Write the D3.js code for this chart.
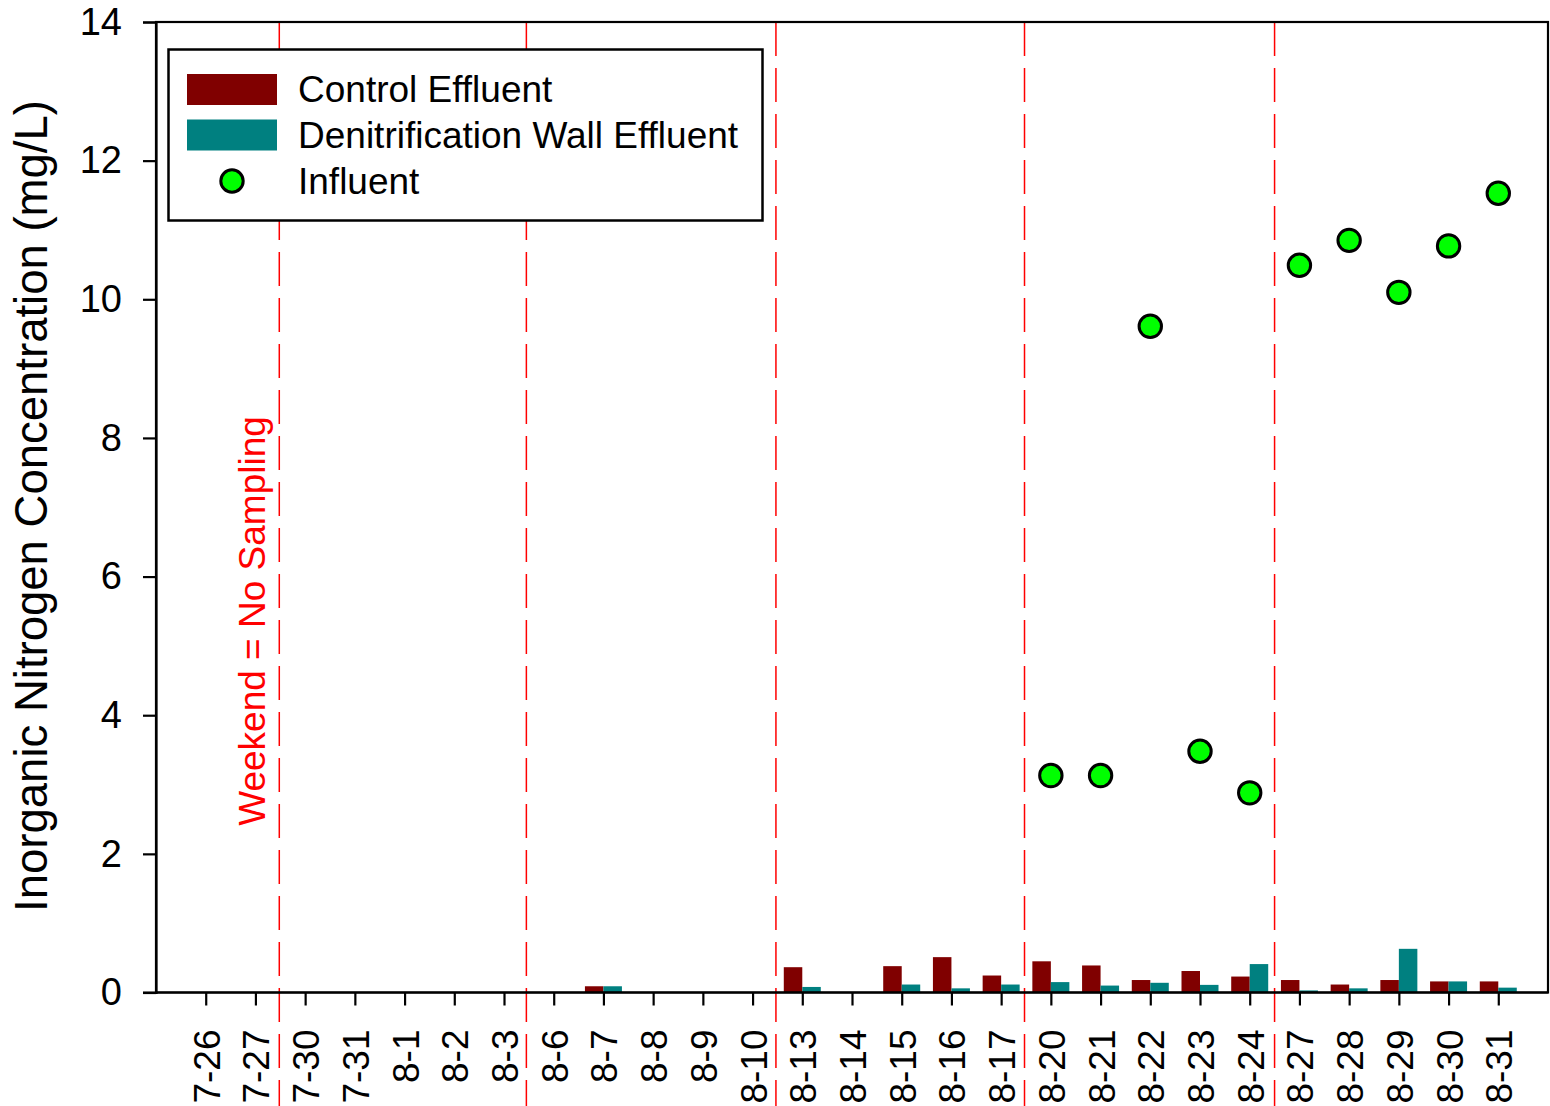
<!DOCTYPE html>
<html>
<head>
<meta charset="utf-8">
<script src="https://cdn.jsdelivr.net/npm/d3@7"></script>
<style>
  html, body { margin: 0; padding: 0; background: #fff; }
  svg { display: block; }
  text { font-family: Arial, "Liberation Sans", sans-serif; }
</style>
</head>
<body>
<svg id="chart" width="1550" height="1106"></svg>
<script>
const categories = ["7-26","7-27","7-30","7-31","8-1","8-2","8-3","8-6","8-7","8-8","8-9","8-10","8-13","8-14","8-15","8-16","8-17","8-20","8-21","8-22","8-23","8-24","8-27","8-28","8-29","8-30","8-31"];
const controlEffluent = [null,null,null,null,null,null,null,null,0.09,null,null,null,0.365,null,0.38,0.51,0.245,0.45,0.39,0.18,0.31,0.23,0.18,0.115,0.18,0.16,0.16];
const wallEffluent    = [null,null,null,null,null,null,null,null,0.09,null,null,null,0.08,null,0.115,0.06,0.115,0.15,0.10,0.14,0.11,0.41,0.03,0.06,0.63,0.16,0.07];
const influent        = [null,null,null,null,null,null,null,null,null,null,null,null,null,null,null,null,null,3.13,3.13,9.61,3.48,2.88,10.49,10.85,10.10,10.77,11.53];
const weekendBreaks = [2.48, 7.45, 12.47, 17.47, 22.5];
const yTicks = [0,2,4,6,8,10,12,14];
const legendItems = ["Control Effluent","Denitrification Wall Effluent","Influent"];
const yTitle = "Inorganic Nitrogen Concentration (mg/L)";
const annotation = "Weekend = No Sampling";

const colControl = "#800000", colWall = "#008080", colInf = "#00ff00";

const svg = d3.select("#chart");
const L = 156, R = 1548, T = 22, B = 992.5;
const x = d3.scaleLinear().domain([0, categories.length + 1]).range([L, R]);
const y = d3.scaleLinear().domain([0, 14]).range([B, T]);
const bw = 18.5;

// weekend dashed lines
svg.append("g").selectAll("line").data(weekendBreaks).join("line")
  .attr("x1", d => x(d)).attr("x2", d => x(d))
  .attr("y1", T).attr("y2", 1106)
  .attr("stroke", "#ff0000").attr("stroke-width", 1.5)
  .attr("stroke-dasharray", "34,12");

// bars
const barData = categories.map((c, i) => ({i, c: controlEffluent[i], w: wallEffluent[i]}));
svg.append("g").selectAll("rect").data(barData.filter(d => d.c != null)).join("rect")
  .attr("x", d => x(d.i + 1) - bw).attr("width", bw)
  .attr("y", d => y(d.c)).attr("height", d => y(0) - y(d.c))
  .attr("fill", colControl);
svg.append("g").selectAll("rect").data(barData.filter(d => d.w != null)).join("rect")
  .attr("x", d => x(d.i + 1)).attr("width", bw)
  .attr("y", d => y(d.w)).attr("height", d => y(0) - y(d.w))
  .attr("fill", colWall);

// influent points
svg.append("g").selectAll("circle").data(influent.map((v, i) => ({i, v})).filter(d => d.v != null)).join("circle")
  .attr("cx", d => x(d.i + 1)).attr("cy", d => y(d.v)).attr("r", 11.2)
  .attr("fill", colInf).attr("stroke", "#000").attr("stroke-width", 3);

// frame
svg.append("rect").attr("x", L).attr("y", T).attr("width", R - L).attr("height", B - T)
  .attr("fill", "none").attr("stroke", "#000").attr("stroke-width", 2.2);

// y axis
const yAxis = svg.append("g").attr("transform", `translate(${L},0)`)
  .call(d3.axisLeft(y).tickValues(yTicks).tickSize(13).tickPadding(21).tickFormat(d3.format("d")));
yAxis.select(".domain").attr("stroke-width", 2.2);
yAxis.selectAll(".tick line").attr("stroke-width", 2.2);
yAxis.selectAll(".tick text").attr("font-size", 38).attr("fill", "#000")
  .attr("font-family", "Arial, 'Liberation Sans', sans-serif");

// x axis
const xAxis = svg.append("g").attr("transform", `translate(0,${B})`)
  .call(d3.axisBottom(x).tickValues(d3.range(1, categories.length + 1)).tickSize(13).tickFormat(d => categories[d - 1]));
xAxis.select(".domain").remove();
xAxis.selectAll(".tick line").attr("stroke-width", 2.2);
xAxis.selectAll(".tick text")
  .attr("font-size", 37).attr("fill", "#000")
  .attr("font-family", "Arial, 'Liberation Sans', sans-serif")
  .attr("text-anchor", "end")
  .attr("dy", null)
  .attr("transform", "translate(13.5,37) rotate(-90)")
  .attr("x", 0).attr("y", 0);
svg.append("line").attr("x1", L - 13).attr("x2", R).attr("y1", B).attr("y2", B)
  .attr("stroke", "#000").attr("stroke-width", 2.2);

// y title
svg.append("text").attr("transform", "translate(47,506) rotate(-90)")
  .attr("text-anchor", "middle").attr("font-size", 45.5).text(yTitle);

// annotation
svg.append("text").attr("transform", "translate(265,621) rotate(-90)")
  .attr("text-anchor", "middle").attr("font-size", 37).attr("fill", "#ff0000").text(annotation);

// legend
const lg = svg.append("g");
lg.append("rect").attr("x", 168.5).attr("y", 49.5).attr("width", 594).attr("height", 171)
  .attr("fill", "#fff").attr("stroke", "#000").attr("stroke-width", 2.5);
lg.append("rect").attr("x", 187).attr("y", 74).attr("width", 90).attr("height", 31).attr("fill", colControl);
lg.append("rect").attr("x", 187).attr("y", 119.5).attr("width", 90).attr("height", 31).attr("fill", colWall);
lg.append("circle").attr("cx", 232).attr("cy", 181).attr("r", 11.2)
  .attr("fill", colInf).attr("stroke", "#000").attr("stroke-width", 3);
lg.selectAll("text.leg").data(legendItems).join("text").attr("class", "leg")
  .attr("x", 298).attr("y", (d, i) => 102 + i * 46)
  .attr("font-size", 37).text(d => d);
</script>
</body>
</html>
